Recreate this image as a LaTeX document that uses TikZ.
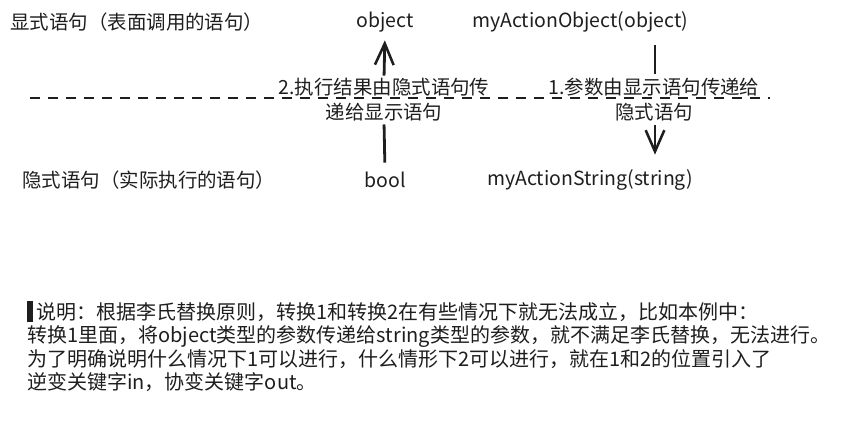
\documentclass[tikz,border=0pt]{standalone}
\usepackage{fontspec}
\setmainfont{Noto Sans CJK SC}
\usetikzlibrary{arrows.meta, positioning}
\definecolor{inchiostro}{HTML}{1E1E1E}

\begin{document}
\begin{tikzpicture}[x = 0.75pt, y = -0.75pt,
    every node/.style = {text = inchiostro, inner sep = 0pt},
    testo/.style = {font = \fontsize{14.6}{18.8}\selectfont, align = center},
    nota/.style = {font = \fontsize{15}{17.3}\selectfont, align = left},
    linea/.style = {draw = inchiostro, line width = 2.1pt},
    freccia/.style = {linea, -{Straight Barb[length = 16pt, width = 14pt, line width = 1.9pt]}},
    tratteggio/.style = {draw = inchiostro, line width = 1pt, dash pattern = on 7.5pt off 6pt}]
    \useasboundingbox (0,0) rectangle (849,433);
    % Parametri
    \pgfmathsetmacro{\ysu}{22}
    \pgfmathsetmacro{\ygiu}{180}
    \pgfmathsetmacro{\ymezzo}{98}
    % Righe
    \node[testo, anchor = west] (esplicito) at (10,\ysu) {显式语句（表面调用的语句）};
    \node[testo, anchor = west] (implicito) at (22,\ygiu) {隐式语句（实际执行的语句）};
    % Tipi e metodi
    \node[testo] (oggetto) at (385,\ysu) {object};
    \node[testo] (metodoObj) at (580,\ysu) {myActionObject(object)};
    \node[testo] (booleano) at (385,\ygiu) {bool};
    \node[testo] (metodoStr) at (590,\ygiu) {myActionString(string)};
    % Linea di separazione
    \coordinate (sepA) at (30,\ymezzo);
    \coordinate (sepB) at (770,\ymezzo);
    \draw[tratteggio] (sepA) -- (sepB);
    % Etichette delle frecce
    \node[testo] (passo2) at (384,100) {2.执行结果由隐式语句传\\递给显示语句};
    \node[testo] (passo1) at (654,100) {1.参数由显示语句传递给\\隐式语句};
    % Frecce
    \coordinate (inizio1) at (655,45);
    \draw[linea, shorten <= 7pt, shorten >= 2pt] (booleano.north) -- (passo2.south);
    \draw[freccia, shorten <= 2pt, shorten >= 6pt] (passo2.north) -- (oggetto.south);
    \draw[linea, shorten >= 3pt] (inizio1) -- (passo1.north -| inizio1);
    \draw[freccia, shorten <= 2pt, shorten >= 11pt] (passo1.south -| inizio1) -- (metodoStr.north -| inizio1);
    % Nota
    \node[nota, anchor = north west] (spiegazione) at (27,301)
        {\rule[-0.12em]{0.3em}{1.05em}\,说明：根据李氏替换原则，转换1和转换2在有些情况下就无法成立，比如本例中：\\
        转换1里面，将object类型的参数传递给string类型的参数，就不满足李氏替换，无法进行。\\
        为了明确说明什么情况下1可以进行，什么情形下2可以进行，就在1和2的位置引入了\\
        逆变关键字in，协变关键字out。};
\end{tikzpicture}
\end{document}
